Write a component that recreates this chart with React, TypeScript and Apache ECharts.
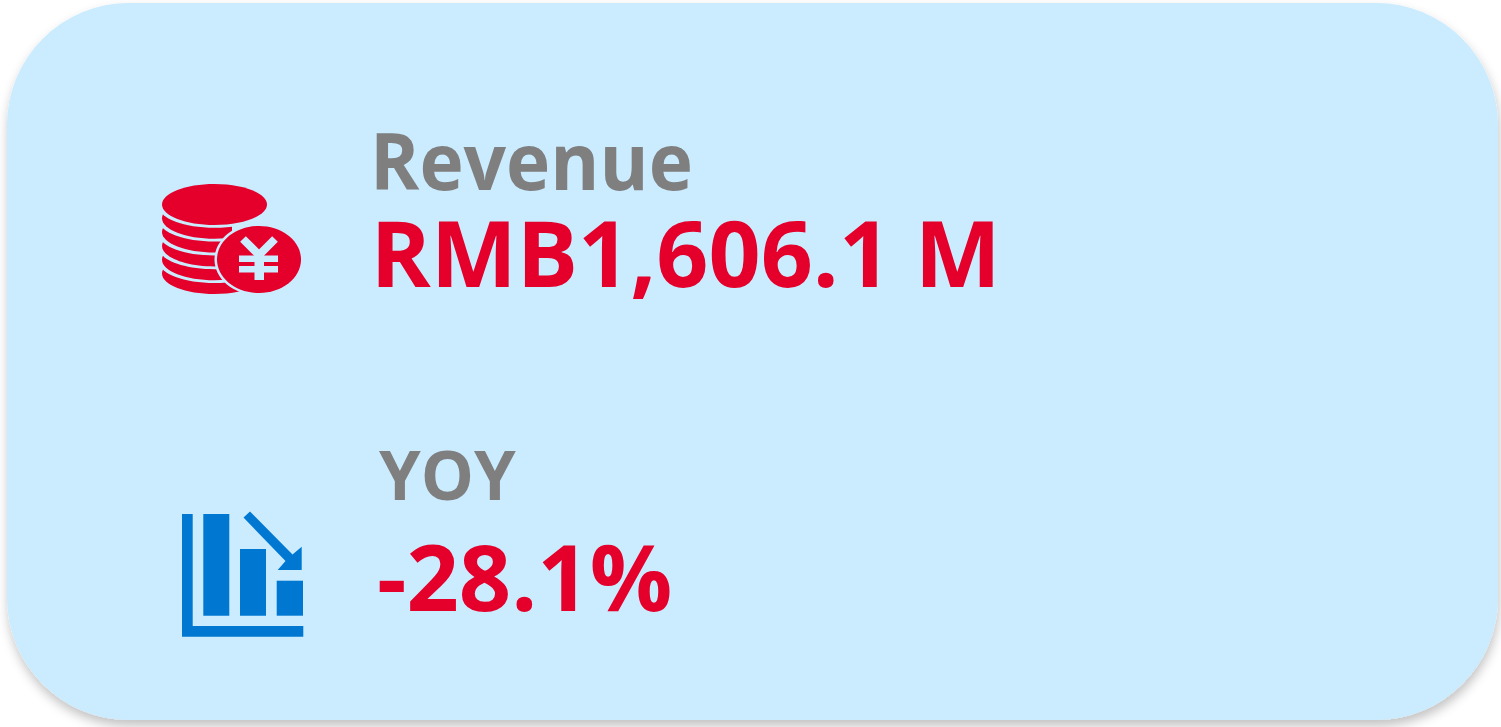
import React, { useEffect, useRef } from "react";
import * as echarts from "echarts";

const metricLabels = ["Revenue", "YOY"];
const metricValues = ["RMB1,606.1 M", "-28.1%"];
const stackLayers = [5, 4, 3, 2, 1];

const RED = "#e4002b";
const GRAY = "#7f7f7f";
const BLUE = "#0078d2";
const BG = "#cbebff";
const FONT = "'Open Sans', 'Noto Sans', sans-serif";

export default function App() {
  const ref = useRef<HTMLDivElement>(null);
  useEffect(() => {
    if (!ref.current) return;
    const chart = echarts.init(ref.current, undefined, { renderer: "svg" });
    const coinLayers: any[] = [];
    stackLayers.forEach((i) => {
      const cy = 204.5 + i * 13.8;
      coinLayers.push({ type: "ellipse", shape: { cx: 214.5, cy, rx: 52.5, ry: 20.5 }, style: { fill: RED } });
      coinLayers.push({ type: "ellipse", shape: { cx: 214.5, cy: cy - 11, rx: 55, ry: 20.5 }, style: { fill: BG } });
    });
    const text = (x: number, y: number, value: string, size: number, fill: string, scaleX = 1) => ({
      type: "text",
      x,
      y,
      scaleX,
      style: { text: value, fontFamily: FONT, fontWeight: 700, fontSize: size, fill },
    });
    chart.setOption({
      animation: false,
      backgroundColor: "#ffffff",
      graphic: [
        {
          type: "rect",
          shape: { x: 7, y: 3, width: 1491, height: 717, r: 122 },
          style: { fill: BG, shadowBlur: 11, shadowOffsetX: 1, shadowOffsetY: 6, shadowColor: "rgba(0,0,0,0.24)" },
        },
        ...coinLayers,
        { type: "rect", shape: { x: 232, y: 200, width: 40, height: 60 }, style: { fill: BG } },
        { type: "ellipse", shape: { cx: 214.5, cy: 204.5, rx: 52.5, ry: 20.5 }, style: { fill: RED } },
        { type: "ellipse", shape: { cx: 259, cy: 259.5, rx: 44.5, ry: 36 }, style: { fill: BG } },
        { type: "ellipse", shape: { cx: 259, cy: 259.5, rx: 42, ry: 33.5 }, style: { fill: RED } },
        { type: "polyline", shape: { points: [[243, 239], [259, 255], [275, 239]] }, style: { stroke: BG, lineWidth: 8, fill: "none" } },
        { type: "rect", shape: { x: 239, y: 255.5, width: 39, height: 6.5 }, style: { fill: BG } },
        { type: "rect", shape: { x: 239, y: 266, width: 39, height: 6.5 }, style: { fill: BG } },
        { type: "rect", shape: { x: 254.5, y: 252, width: 9.5, height: 28 }, style: { fill: BG } },

        { type: "polygon", shape: { points: [[182, 514], [192.7, 514], [192.7, 626], [303.3, 626], [303.3, 636.7], [182, 636.7]] }, style: { fill: BLUE } },
        { type: "rect", shape: { x: 203.3, y: 514, width: 26, height: 101.7 }, style: { fill: BLUE } },
        { type: "rect", shape: { x: 240, y: 549, width: 26, height: 66.7 }, style: { fill: BLUE } },
        { type: "rect", shape: { x: 276.7, y: 580.7, width: 26.3, height: 35 }, style: { fill: BLUE } },
        { type: "polygon", shape: { points: [[243.5, 517.5], [250, 511.5], [292.5, 554.5], [301.7, 546.7], [301.7, 570], [277.7, 570], [285.5, 561]] }, style: { fill: BLUE } },

        text(370, 120, metricLabels[0], 79, GRAY, 0.947),
        text(370.5, 207, metricValues[0], 91, RED, 1.003),
        text(379, 438.5, metricLabels[1], 69, GRAY, 0.97),
        text(377, 530, metricValues[1], 91, RED, 1.007),
      ],
    });
    return () => chart.dispose();
  }, []);
  return <div ref={ref} style={{ position: "absolute", left: 0, top: 0, width: 1501, height: 727 }} />;
}
